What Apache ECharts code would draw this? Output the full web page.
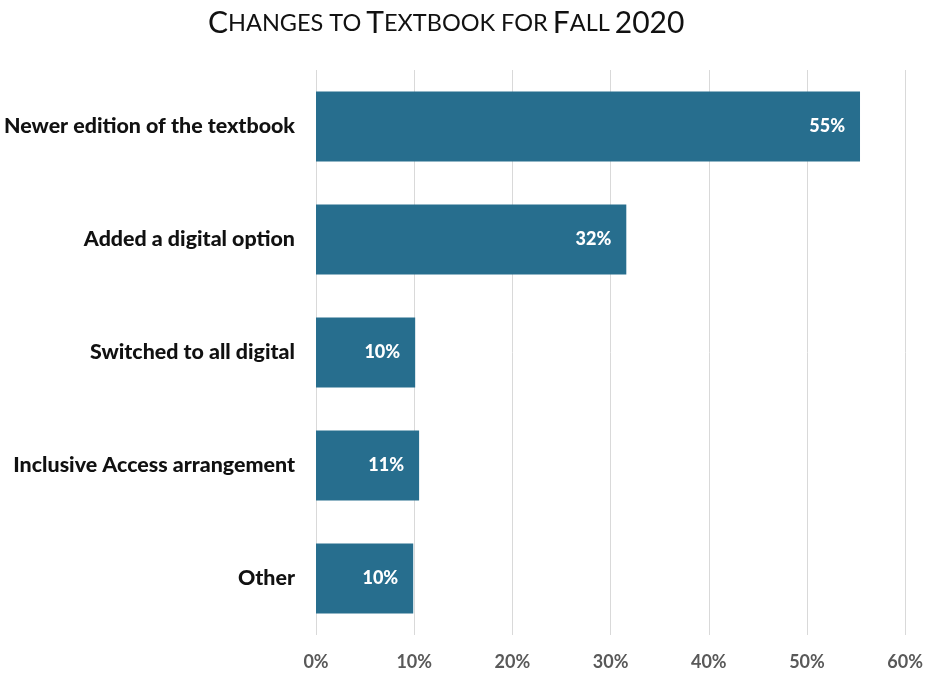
<!DOCTYPE html>
<html>
<head>
<meta charset="utf-8">
<script src="https://cdn.jsdelivr.net/npm/echarts@6/dist/echarts.min.js"></script>
<style>html,body{margin:0;padding:0;background:#fff}#c{width:926px;height:673px}</style>
</head>
<body>
<div id="c"></div>
<script>
const categories = ["Newer edition of the textbook", "Added a digital option", "Switched to all digital", "Inclusive Access arrangement", "Other"];
const values = [55.4, 31.6, 10.1, 10.5, 9.9];
const valueLabels = ["55%", "32%", "10%", "11%", "10%"];
const tickLabels = ["0%", "10%", "20%", "30%", "40%", "50%", "60%"];

const chart = echarts.init(document.getElementById('c'));
const FONT = 'Lato, "Open Sans", sans-serif';
chart.setOption({
  animation: false,
  title: {
    text: '{a|C}{b|HANGES TO} {a|T}{b|EXTBOOK FOR} {a|F}{b|ALL} {a|2020}',
    left: 203,
    top: 3,
    textStyle: {
      rich: {
        a: { fontFamily: FONT, fontSize: 30, color: '#111', fontWeight: 'normal' },
        b: { fontFamily: FONT, fontSize: 23.5, color: '#111', fontWeight: 'normal' }
      }
    }
  },
  grid: { left: 316, right: 20, top: 70, bottom: 38, containLabel: false },
  xAxis: {
    type: 'value', min: 0, max: 60, interval: 10,
    axisLine: { show: false }, axisTick: { show: false },
    splitLine: { lineStyle: { color: '#d9d9d9', width: 1 } },
    axisLabel: {
      margin: 18, color: '#595959', fontFamily: FONT, fontWeight: 'bold', fontSize: 18,
      formatter: v => tickLabels[Math.round(v / 10)]
    }
  },
  yAxis: {
    type: 'category', data: categories, inverse: true,
    axisLine: { show: false }, axisTick: { show: false },
    axisLabel: { margin: 21, color: '#111', fontFamily: FONT, fontWeight: 900, fontSize: 21.4 }
  },
  series: [{
    type: 'bar', data: values, barCategoryGap: '38%',
    itemStyle: { color: '#276e8e' },
    label: {
      show: true, position: 'insideRight', distance: 15,
      color: '#fff', fontFamily: FONT, fontWeight: 900, fontSize: 18,
      formatter: p => valueLabels[p.dataIndex]
    }
  }]
});
</script>
</body>
</html>
